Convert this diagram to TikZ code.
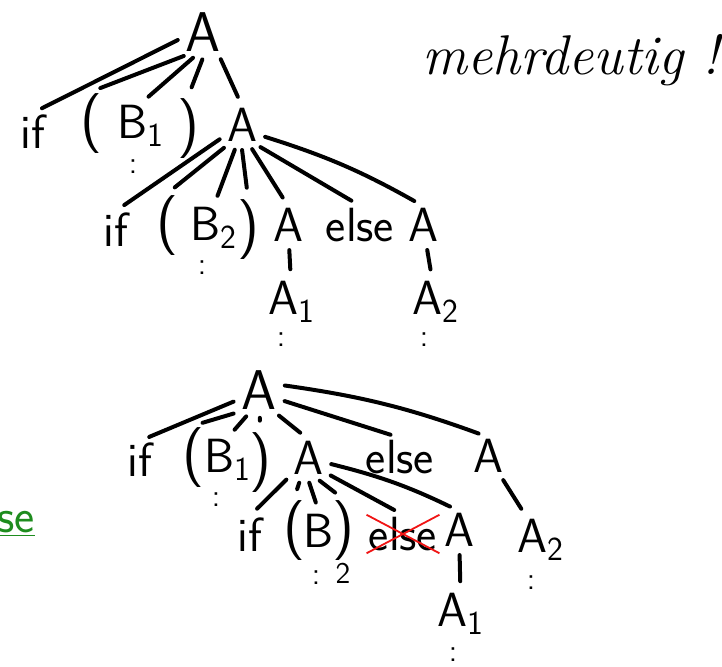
\documentclass[tikz,border=0pt]{standalone}
\usepackage{tikz}
\usetikzlibrary{positioning}
\definecolor{ink}{HTML}{000000}
\definecolor{pen}{HTML}{1E8C1E}
\definecolor{strike}{HTML}{F01414}
\tikzset{
  sym/.style={font=\fontsize{24}{24}\selectfont\sffamily,inner sep=1pt,text=ink},
  head/.style={sym,font=\fontsize{28}{28}\selectfont\sffamily},
  par/.style={sym,font=\fontsize{30}{30}\selectfont\sffamily},
  sub/.style={font=\fontsize{15}{15}\selectfont\sffamily,inner sep=0pt},
  dts/.style={font=\fontsize{16}{16}\selectfont\sffamily,inner sep=0pt},
  link/.style={draw=ink,line width=2pt,line cap=round,shorten <=3pt,shorten >=5pt},
  strk/.style={draw=strike,line width=0.9pt},
  note/.style={font=\fontsize{28}{28}\selectfont\itshape,inner sep=0pt},
}
\begin{document}
\begin{tikzpicture}[x=0.5pt,y=-0.5pt]
\useasboundingbox (0,0) rectangle (722,666);
% first tree
\node[head] (r1) at (203,32) {A};
\node[sym] (if1) at (33,132) {if};
\node[par] (lp1) at (91,124) {(};
\node[sym] (b1) at (141,126) {B\textsubscript{1}};
\node[par] (rp1) at (188,129) {)};
\node[sym] (a1) at (242,125) {A};
\node[dts] (d1) at (133,167) {:};
\foreach \c/\w in {if1/195,lp1/238,b1/256,rp1/274,a1/305}
  \draw[link] (r1.\w) -- (\c.north);
\node[sym] (if2) at (116,230) {if};
\node[par] (lp2) at (167,226) {(};
\node[sym] (b2) at (214,228) {B\textsubscript{2}};
\node[par] (rp2) at (248,230) {)};
\node[sym] (a2) at (288,225) {A};
\node[sym] (el2) at (360,225) {else};
\node[sym] (a3) at (423,225) {A};
\node[dts] (d2) at (202,268) {:};
\foreach \c/\w in {if2/212,lp2/235,b2/255,rp2/268,a2/290,el2/305}
  \draw[link] (a1.\w) -- (\c.north);
\draw[link] (a1.330) to[bend left=6] (a3.north);
\node[sym] (a4) at (292,302) {A\textsubscript{1}};
\node[sym] (a5) at (436,302) {A\textsubscript{2}};
\node[dts] (d4) at (281,340) {:};
\node[dts] (d5) at (424,340) {:};
\draw[link] (a2) -- (a4);
\draw[link] (a3) -- (a5);
\node[note] (mt) at (571,60) {mehrdeutig !};
% second tree
\node[head] (s0) at (259,390) {A};
\node[sym] (if3) at (140,460) {if};
\node[par] (lp3) at (193,458) {(};
\node[sym] (b3) at (228,460) {B\textsubscript{1}};
\node[par] (rp3) at (260,463) {)};
\node[sym] (s1) at (308,458) {A};
\node[sym] (el3) at (400,457) {else};
\node[sym] (s2) at (488,456) {A};
\node[dts] (d3) at (216,500) {:};
\foreach \c/\w in {if3/205,lp3/228,b3/248,rp3/272,s1/305,el3/335}
  \draw[link] (s0.\w) -- (\c.north);
\draw[link] (s0.15) to[bend left=6] (s2.north);
\node[sym] (if4) at (250,535) {if};
\node[par] (lp4) at (294,531) {(};
\node[sym] (b4) at (319,531) {B};
\node[par] (rp4) at (343,531) {)};
\node[sub] (b4s) at (343,573) {2};
\node[sym] (el4) at (403,534) {else};
\node[sym] (s3) at (459,530) {A};
\node[dts] (d6) at (316,578) {:};
\foreach \c/\w in {if4/225,lp4/250,b4/268,rp4/290,el4/320}
  \draw[link] (s1.\w) -- (\c.north);
\draw[link] (s1.345) to[bend left=6] (s3.north);
\draw[strk] (el4.north west) -- (el4.south east);
\draw[strk] (el4.south west) -- (el4.north east);
\node[sym] (s4) at (541,540) {A\textsubscript{2}};
\node[dts] (d7) at (531,583) {:};
\draw[link] (s2) -- (s4);
\node[sym] (s5) at (461,614) {A\textsubscript{1}};
\node[dts] (d8) at (453,655) {:};
\draw[link] (s3) -- (s5);
% green remnant at the left edge
\node[sym,text=pen,anchor=east] (gr) at (37,524) {\underline{se}};
\end{tikzpicture}
\end{document}
